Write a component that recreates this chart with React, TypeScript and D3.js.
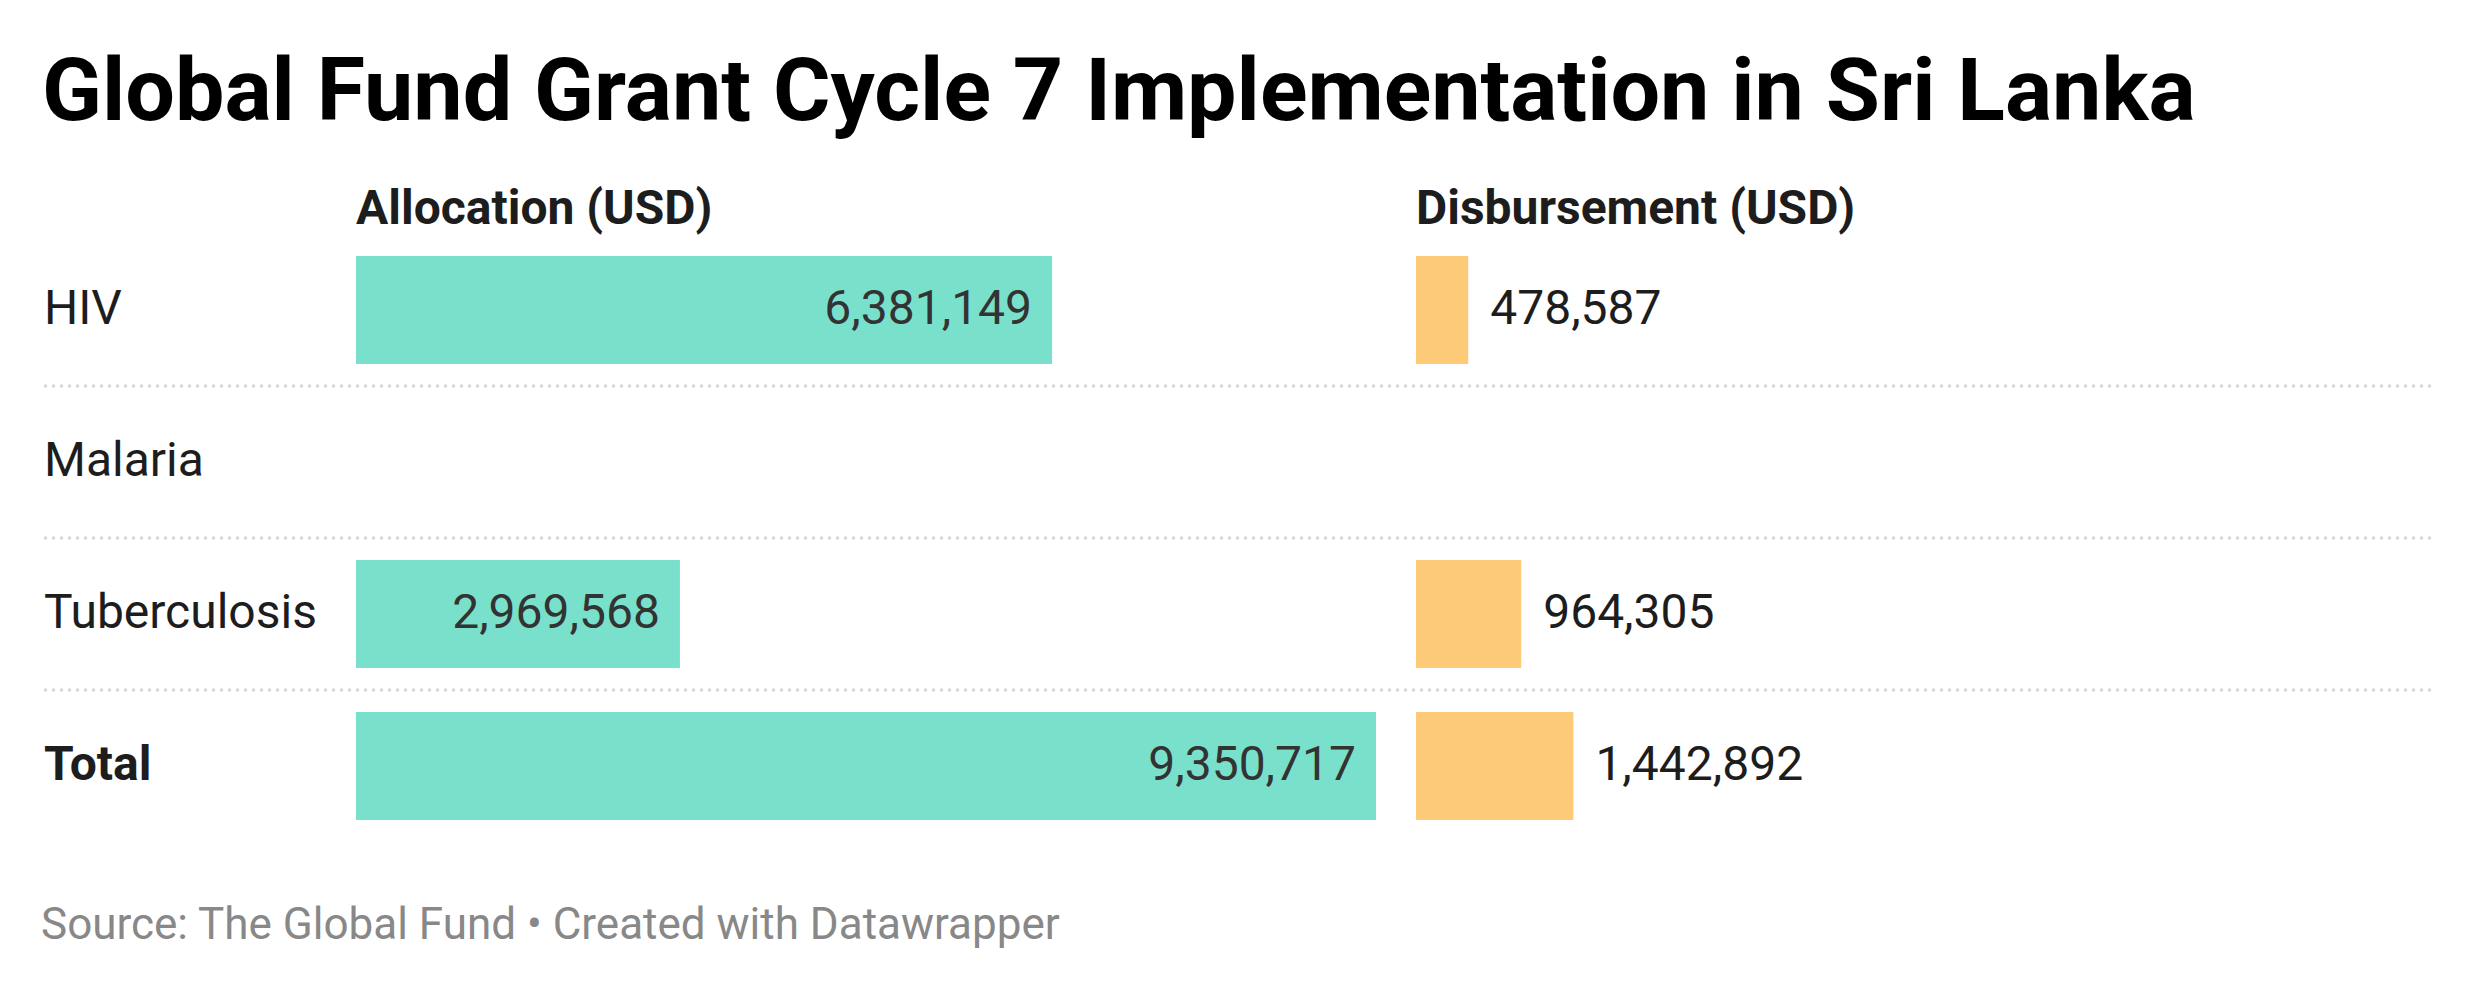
import React from "react";
import * as d3 from "d3";

const title = "Global Fund Grant Cycle 7 Implementation in Sri Lanka";
const source = "Source: The Global Fund • Created with Datawrapper";
const columnHeaders = ["Allocation (USD)", "Disbursement (USD)"];
const categories = ["HIV", "Malaria", "Tuberculosis", "Total"];
const allocation: (number | null)[] = [6381149, null, 2969568, 9350717];
const disbursement: (number | null)[] = [478587, null, 964305, 1442892];

const W = 2480;
const H = 992;
const FONT = "Roboto, 'Noto Sans', sans-serif";

export default function App() {
  const y = d3
    .scaleBand<string>()
    .domain(categories)
    .range([256, 820])
    .paddingInner(44 / 152)
    .paddingOuter(0);

  const maxVal = d3.max(allocation, (d) => d ?? 0) as number;
  const x = d3.scaleLinear().domain([0, maxVal]).range([0, 1020]);

  const allocX0 = 356;
  const disbX0 = 1416;
  const fmt = d3.format(",");
  const bw = y.bandwidth();

  return (
    <svg
      width={W}
      height={H}
      style={{ position: "absolute", left: 0, top: 0, background: "#fff" }}
      fontFamily={FONT}
    >
      <rect x={0} y={0} width={W} height={H} fill="#fff" />
      <text x={42} y={120} fontSize={88} fontWeight={700} fill="#000">
        {title}
      </text>
      <text x={allocX0} y={224} fontSize={48} fontWeight={700} fill="#1d1d1d">
        {columnHeaders[0]}
      </text>
      <text x={disbX0} y={224} fontSize={48} fontWeight={700} fill="#1d1d1d">
        {columnHeaders[1]}
      </text>

      {categories.slice(0, -1).map((c) => (
        <line
          key={"sep" + c}
          x1={44}
          x2={2436}
          y1={(y(c) as number) + bw + 22}
          y2={(y(c) as number) + bw + 22}
          stroke="#d6d6d6"
          strokeWidth={3}
          strokeDasharray="3,5"
        />
      ))}

      {categories.map((c, i) => {
        const top = y(c) as number;
        const cy = top + bw / 2;
        const a = allocation[i];
        const d = disbursement[i];
        const isTotal = c === "Total";
        return (
          <g key={c}>
            <text
              x={44}
              y={cy}
              dy="0.3em"
              fontSize={48}
              fontWeight={isTotal ? 700 : 400}
              fill="#1d1d1d"
            >
              {c}
            </text>
            {a != null && (
              <g>
                <rect x={allocX0} y={top} width={x(a)} height={bw} fill="#79e1cb" />
                <text
                  x={allocX0 + x(a) - 20}
                  y={cy}
                  dy="0.3em"
                  fontSize={48}
                  textAnchor="end"
                  fill="#333"
                >
                  {fmt(a)}
                </text>
              </g>
            )}
            {d != null && (
              <g>
                <rect x={disbX0} y={top} width={x(d)} height={bw} fill="#fdca78" />
                <text
                  x={disbX0 + x(d) + 22}
                  y={cy}
                  dy="0.3em"
                  fontSize={48}
                  fill="#1d1d1d"
                >
                  {fmt(d)}
                </text>
              </g>
            )}
          </g>
        );
      })}

      <text x={41} y={939} fontSize={44} fill="#888">
        {source}
      </text>
    </svg>
  );
}
